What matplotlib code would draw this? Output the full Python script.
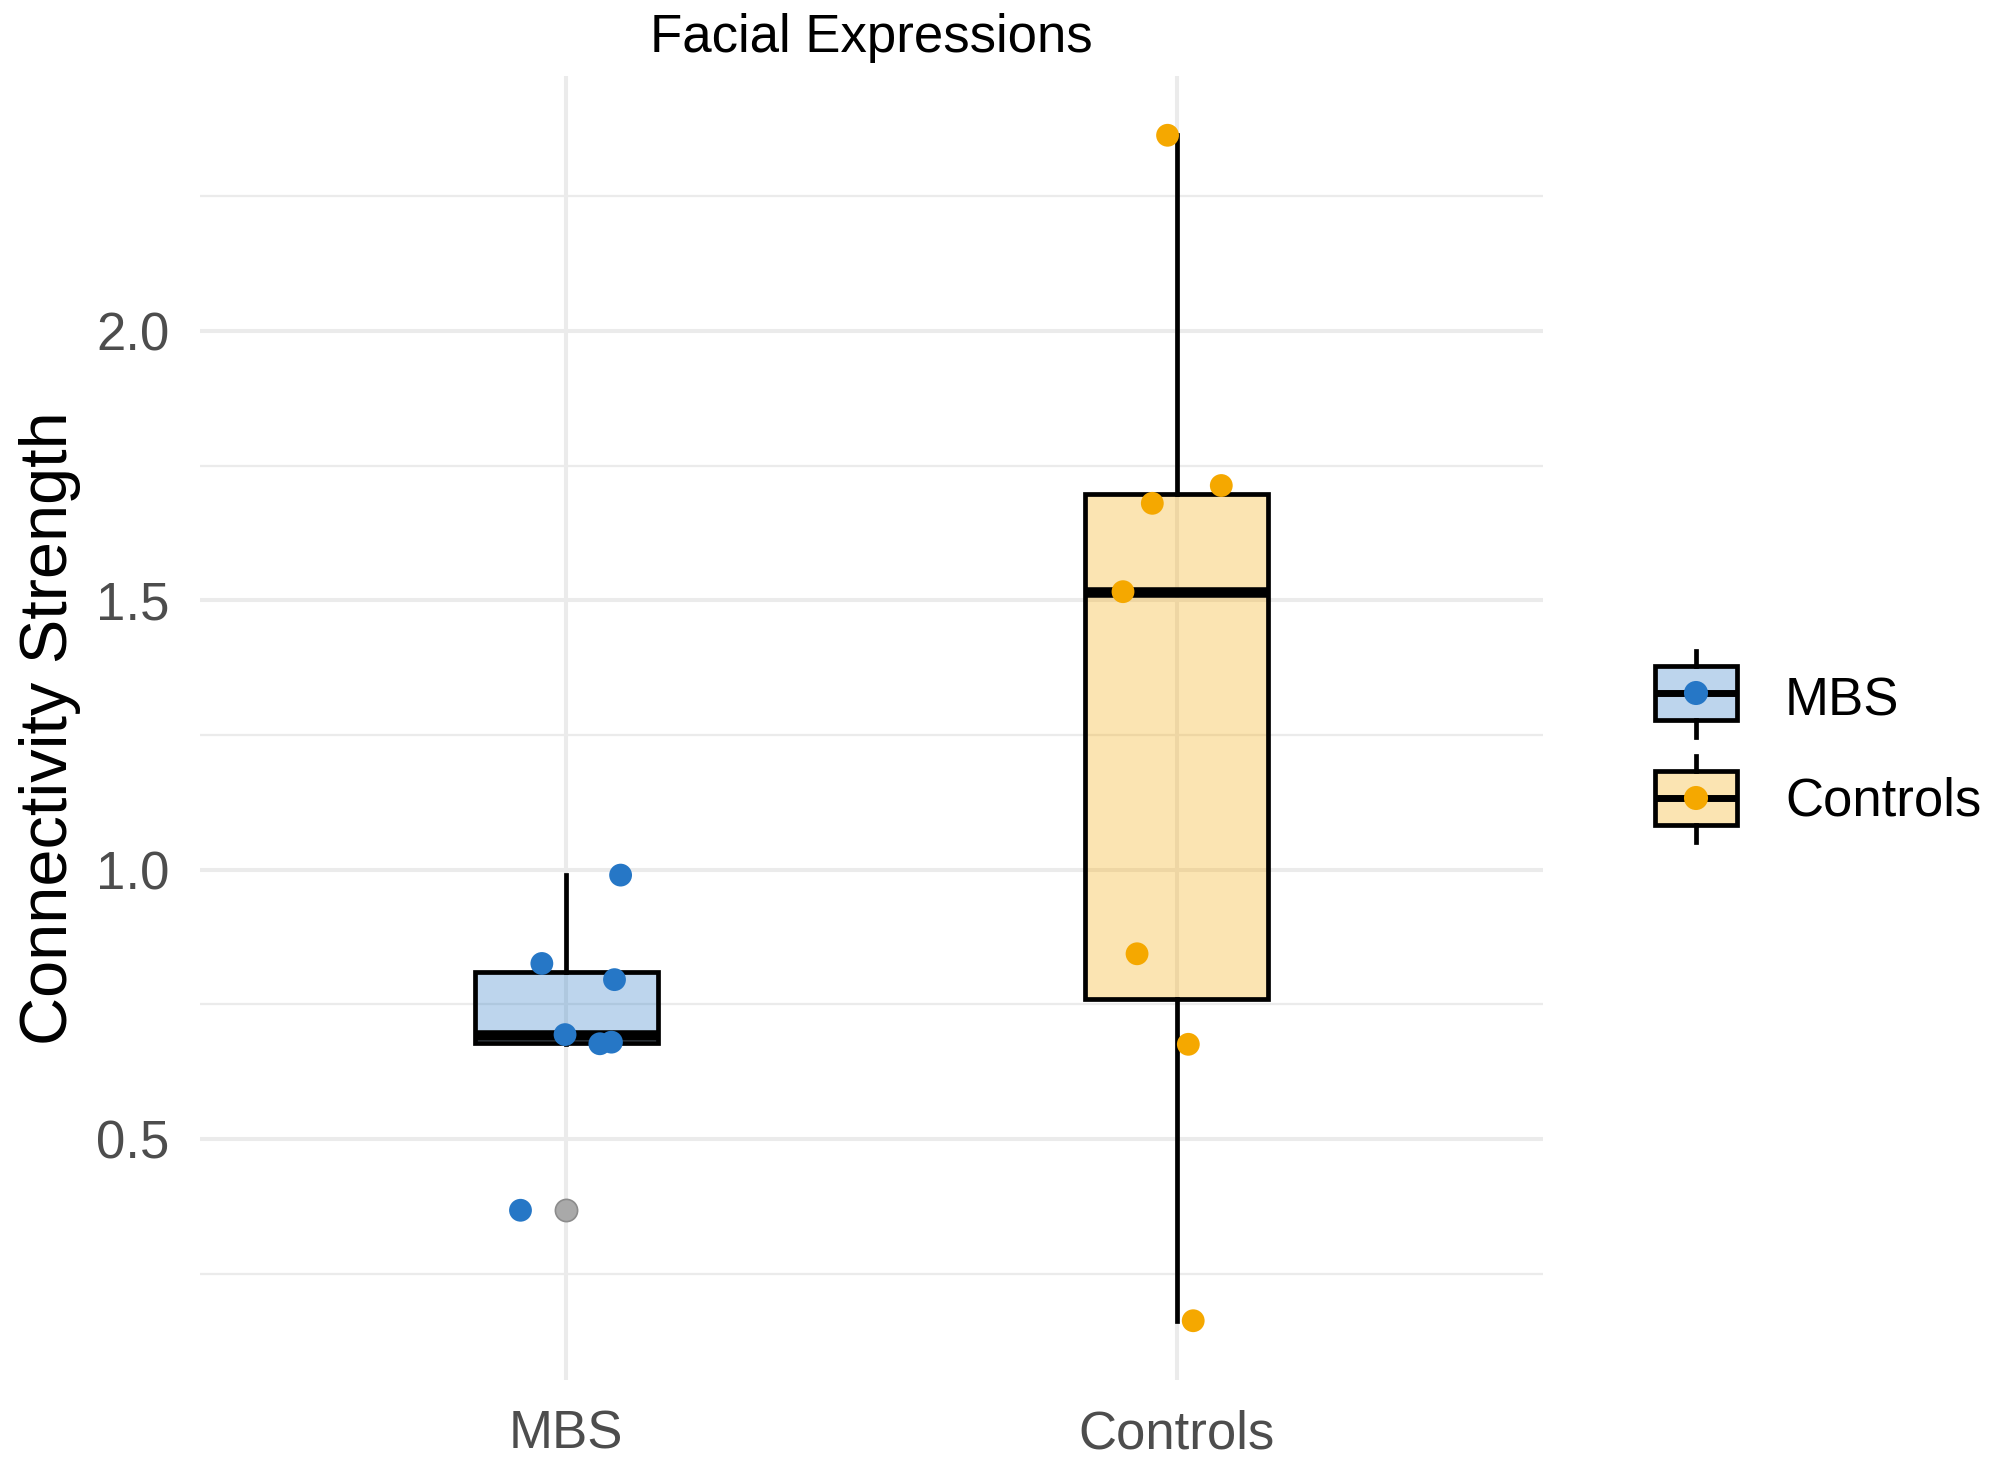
#!/usr/bin/env python3
"""
Facial Expressions - connectivity strength, MBS vs Controls.
Box plot with jittered points, ggplot-minimal look.
"""
import numpy as np
import matplotlib
matplotlib.use('Agg')
import matplotlib.pyplot as plt
from matplotlib.patches import Rectangle

plt.rcParams['font.family'] = ['Liberation Sans', 'DejaVu Sans']

groups = ['MBS', 'Controls']
mbs_vals = [0.990, 0.826, 0.796, 0.694, 0.677, 0.680, 0.368]
mbs_jitter = [0.089, -0.040, 0.079, -0.002, 0.055, 0.074, -0.075]
ctrl_vals = [2.363, 1.713, 1.680, 1.516, 0.844, 0.676, 0.163]
ctrl_jitter = [-0.015, 0.073, -0.040, -0.088, -0.065, 0.019, 0.027]
yticks = [0.5, 1.0, 1.5, 2.0]
yminor = [0.25, 0.75, 1.25, 1.75, 2.25]

point_cols = ['#2677C6', '#F5A800']
GRID = '#EBEBEB'
TXT = '#4D4D4D'
LW = 3.4

W, H = 1995, 1467
fig = plt.figure(figsize=(W / 100, H / 100), dpi=100)
ax = fig.add_axes([200 / W, 1 - 1380 / H, 1343 / W, 1304 / H])

data = [mbs_vals, ctrl_vals]
jit = [mbs_jitter, ctrl_jitter]

bp = ax.boxplot(data, positions=[1, 2], widths=0.3, patch_artist=True,
                showcaps=False, whis=1.5,
                boxprops=dict(edgecolor='black', linewidth=LW),
                whiskerprops=dict(color='black', linewidth=LW),
                medianprops=dict(color='black', linewidth=7.6, solid_capstyle='butt'),
                flierprops=dict(marker='o', markersize=16, markerfacecolor='#A9A9A9',
                                markeredgecolor='#8C8C8C', markeredgewidth=1.2))
for patch, c in zip(bp['boxes'], point_cols):
    patch.set_facecolor(matplotlib.colors.to_rgba(c, 0.3))
    patch.set_zorder(2)

for i, (vals, dx, c) in enumerate(zip(data, jit, point_cols)):
    ax.scatter(np.array(dx) + i + 1, vals, s=270, color=c, edgecolors='none', zorder=4)

lo = min(min(v) for v in data); hi = max(max(v) for v in data)
pad = 0.05 * (hi - lo)
ax.set_ylim(lo - pad, hi + pad)
ax.set_xlim(0.4, 2.6)
ax.set_xticks([1, 2]); ax.set_xticklabels(groups)
ax.set_yticks(yticks); ax.set_yticklabels([f'{v:.1f}' for v in yticks])
ax.set_yticks(yminor, minor=True)
ax.grid(True, which='major', color=GRID, lw=2.9)
ax.grid(True, which='minor', axis='y', color=GRID, lw=1.6)
ax.set_axisbelow(True)
for s in ax.spines.values():
    s.set_visible(False)
ax.tick_params(which='both', length=0)
ax.tick_params(axis='y', pad=22, labelsize=38, labelcolor=TXT)
ax.tick_params(axis='x', pad=21, labelsize=38, labelcolor=TXT)

ax.set_ylabel('Connectivity Strength', fontsize=48, color='black', va='center')
ax.yaxis.set_label_coords(-0.112, 0.5)

fig.text((200 + 1543) / 2 / W, 1 - 52 / H, 'Facial Expressions', fontsize=38,
         ha='center', va='baseline', color='black')

# legend, drawn in pixel coordinates
lax = fig.add_axes([0, 0, 1, 1], zorder=5)
lax.set_xlim(0, W); lax.set_ylim(H, 0); lax.axis('off')
for name, c, cy, base in zip(groups, point_cols, [693, 798], [715, 816]):
    x0, x1 = 1655, 1737
    xc = (x0 + x1) / 2
    lax.plot([xc, xc], [cy - 42, cy - 27], color='black', lw=LW)
    lax.plot([xc, xc], [cy + 27, cy + 44], color='black', lw=LW)
    lax.add_patch(Rectangle((x0, cy - 27), x1 - x0, 54,
                            facecolor=matplotlib.colors.to_rgba(c, 0.3),
                            edgecolor='black', lw=LW))
    lax.plot([x0, x1], [cy, cy], color='black', lw=5, solid_capstyle='butt')
    lax.scatter([xc], [cy], s=300, color=c, edgecolors='none', zorder=6)
    lax.text(1785, base, name, fontsize=38, va='baseline', ha='left', color='black')

fig.savefig('out.png', dpi=100)
print("Saved: out.png")
